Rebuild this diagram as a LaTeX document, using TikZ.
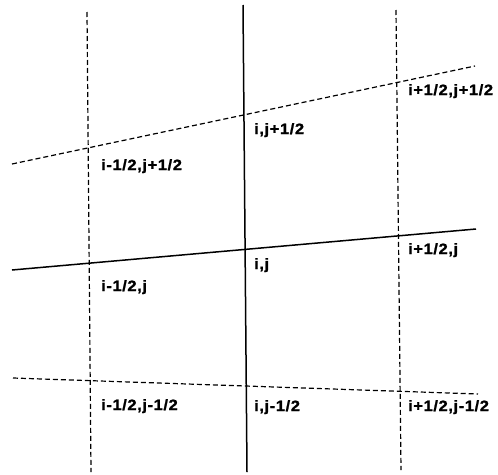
\documentclass[tikz,border=0pt]{standalone}
\usepackage{fontspec}
\newfontfamily\lblfont[FakeStretch=1.1,LetterSpace=4,FakeBold=1.2]{Liberation Sans Bold}
\usetikzlibrary{positioning}
\begin{document}
\begin{tikzpicture}[x=1pt, y=-1pt,
    full/.style={draw=black, line width=1.5pt},
    half/.style={draw=black, line width=1.2pt, dash pattern=on 5pt off 3pt},
    idx/.style={font=\lblfont\fontsize{15}{15}\selectfont,
                anchor=base west, inner sep=0pt, text=black}
  ]
  \useasboundingbox (0,0) rectangle (498,474);
  % ---------------- line ends ----------------
  \coordinate (wN) at (87,12);   \coordinate (wS) at (91,472);
  \coordinate (cN) at (243,5);   \coordinate (cS) at (247,472);
  \coordinate (eN) at (396,10);  \coordinate (eS) at (401,470);
  \coordinate (nW) at (12,164);  \coordinate (nE) at (475,66);
  \coordinate (mW) at (12,270);  \coordinate (mE) at (476,229);
  \coordinate (sW) at (13,378);  \coordinate (sE) at (478,394);
  % ---------------- grid lines ----------------
  \draw[half] (wN) -- (wS);
  \draw[full] (cN) -- (cS);
  \draw[half] (eN) -- (eS);
  \draw[half] (nW) -- (nE);
  \draw[full] (mW) -- (mE);
  \draw[half] (sW) -- (sE);
  % ---------------- labels ----------------
  \node[idx] (wn) at (101,170) {i-1/2,j+1/2};
  \node[idx] (cn) at (254,134) {i,j+1/2};
  \node[idx] (en) at (408,95)  {i+1/2,j+1/2};
  \node[idx] (wm) at (101,291) {i-1/2,j};
  \node[idx] (cm) at (254,269) {i,j};
  \node[idx] (em) at (408,254) {i+1/2,j};
  \node[idx] (ws) at (101,410) {i-1/2,j-1/2};
  \node[idx] (cs) at (254,411) {i,j-1/2};
  \node[idx] (es) at (408,411) {i+1/2,j-1/2};
\end{tikzpicture}
\end{document}
